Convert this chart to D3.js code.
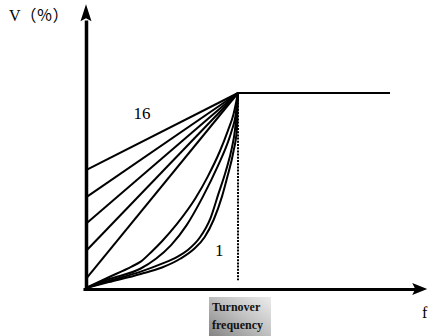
<!DOCTYPE html>
<html>
<head>
<meta charset="utf-8">
<script src="https://cdn.jsdelivr.net/npm/d3@7"></script>
<style>
  html, body { margin: 0; padding: 0; background: #fff; }
  svg { display: block; }
</style>
</head>
<body>
<svg id="chart" width="434" height="336"></svg>
<script>
// Frequency in % of the turnover frequency, voltage in % of rated voltage.
// Linear boost lines: voltage at zero frequency, rising straight to the turnover point.
const boostStarts = [60.5, 46.5, 33, 19, 4.7];

// Reduced-torque curves as [frequency, voltage] points, from the origin to the turnover point.
const curve4 = [[0,0],[15,5.5],[30,11],[36,13.5],[43,18.5],[50,24],[60,33],[72,46],[80,57],[88,70],[93.5,81],[97,89],[100,100]];
const curve3 = [[0,0],[15,4.5],[36,10],[46,15],[56,22],[66,32],[77,47],[87,63],[93,74],[96,81],[98.5,89],[100,100]];
const curve2 = [[0,0],[15,3.6],[36,8.4],[50,12.5],[60,16],[67,19.5],[75,26],[82,36],[87,48],[92,60],[96,72],[98,81],[100,100]];
const curve1 = [[0,0],[15,3],[36,7.2],[50,10.5],[62,15],[71,20],[78,26],[84,35],[89.5,47],[93,57],[97,70],[99.2,81],[100,100]];
const reducedCurves = [curve1, curve2, curve3, curve4];

const turnover = { f: 100, v: 100 };
const flatEnd = 200;          // constant-voltage section ends here
const fAxisMax = 224.5;       // x axis arrow tip
const vAxisMax = 145.5;       // y axis arrow tip

const axisTitleY = "V（％）";
const axisTitleX = "f";
const labelTop = "16";
const labelBottom = "1";
const turnoverText = ["Turnover", "frequency"];

const svg = d3.select("#chart");

const x = d3.scaleLinear().domain([0, 100]).range([86, 238]);
const y = d3.scaleLinear().domain([0, 100]).range([288, 93]);

const line = d3.line().x(d => x(d[0])).y(d => y(d[1]));
const smooth = d3.line().x(d => x(d[0])).y(d => y(d[1])).curve(d3.curveMonotoneX);

// Shaded "Turnover frequency" tag under the turnover point
const defs = svg.append("defs");
const grad = defs.append("linearGradient").attr("id", "tagFill")
  .attr("x1", "0%").attr("y1", "100%").attr("x2", "100%").attr("y2", "0%");
grad.append("stop").attr("offset", "0%").attr("stop-color", "#808080");
grad.append("stop").attr("offset", "55%").attr("stop-color", "#c2c2c2");
grad.append("stop").attr("offset", "100%").attr("stop-color", "#ececec");

const tag = svg.append("g").attr("transform", `translate(${x(turnover.f) - 29},297)`);
tag.append("rect").attr("width", 62).attr("height", 42).attr("fill", "url(#tagFill)");
tag.append("text").attr("x", 3).attr("y", 14).text(turnoverText[0])
  .attr("font-family", "'Liberation Serif', serif").attr("font-weight", "bold")
  .attr("font-size", 12).attr("fill", "#111");
tag.append("text").attr("x", 3).attr("y", 32).text(turnoverText[1])
  .attr("font-family", "'Liberation Serif', serif").attr("font-weight", "bold")
  .attr("font-size", 12).attr("fill", "#111");

// Dotted drop line from the turnover point
svg.append("line")
  .attr("x1", x(turnover.f)).attr("x2", x(turnover.f))
  .attr("y1", y(turnover.v) + 3).attr("y2", y(4))
  .attr("stroke", "#000").attr("stroke-width", 2).attr("stroke-dasharray", "2,1.2");

// Constant-voltage section above the turnover frequency
svg.append("path")
  .attr("d", line([[turnover.f, turnover.v], [flatEnd, turnover.v]]))
  .attr("fill", "none").attr("stroke", "#000").attr("stroke-width", 2);

// Linear boost lines
svg.append("g").selectAll("path").data(boostStarts).join("path")
  .attr("d", b => line([[0, b], [turnover.f, turnover.v]]))
  .attr("fill", "none").attr("stroke", "#000").attr("stroke-width", 2);

// Reduced-torque curves
svg.append("g").selectAll("path").data(reducedCurves).join("path")
  .attr("d", c => smooth(c))
  .attr("fill", "none").attr("stroke", "#000").attr("stroke-width", 2);

// Axes (no ticks) with arrowheads
const xAxisScale = d3.scaleLinear().domain([-2, fAxisMax - 8]).range([x(-2), x(fAxisMax - 8)]);
const yAxisScale = d3.scaleLinear().domain([-0.5, vAxisMax - 8]).range([y(-0.5), y(vAxisMax - 8)]);

const gx = svg.append("g").attr("transform", `translate(0,${y(0) + 1})`)
  .call(d3.axisBottom(xAxisScale).tickValues([]).tickSizeOuter(0));
gx.select(".domain").attr("stroke", "#000").attr("stroke-width", 3);

const gy = svg.append("g").attr("transform", `translate(${x(0)},0)`)
  .call(d3.axisLeft(yAxisScale).tickValues([]).tickSizeOuter(0));
gy.select(".domain").attr("stroke", "#000").attr("stroke-width", 3.5);

const tipX = x(fAxisMax), axY = y(0) + 1;
svg.append("path")
  .attr("d", `M${tipX},${axY}L${tipX - 15},${axY - 6}L${tipX - 12},${axY}L${tipX - 15},${axY + 6}Z`)
  .attr("fill", "#000");
const tipY = y(vAxisMax), axX = x(0);
svg.append("path")
  .attr("d", `M${axX},${tipY}L${axX + 5.5},${tipY + 17}L${axX},${tipY + 14}L${axX - 5.5},${tipY + 17}Z`)
  .attr("fill", "#000");

// Text labels
const serif = "'Liberation Serif', 'Noto Sans CJK SC', serif";
svg.append("text").attr("x", 9).attr("y", 21).text(axisTitleY)
  .attr("font-family", serif).attr("font-size", 16).attr("fill", "#000");
svg.append("text").attr("x", 422).attr("y", 318).text(axisTitleX)
  .attr("font-family", serif).attr("font-size", 16).attr("fill", "#000");
svg.append("text").attr("x", 142).attr("y", 119).attr("text-anchor", "middle").text(labelTop)
  .attr("font-family", serif).attr("font-size", 17).attr("fill", "#000");
svg.append("text").attr("x", 215).attr("y", 256).text(labelBottom)
  .attr("font-family", serif).attr("font-size", 17).attr("fill", "#000");
</script>
</body>
</html>
